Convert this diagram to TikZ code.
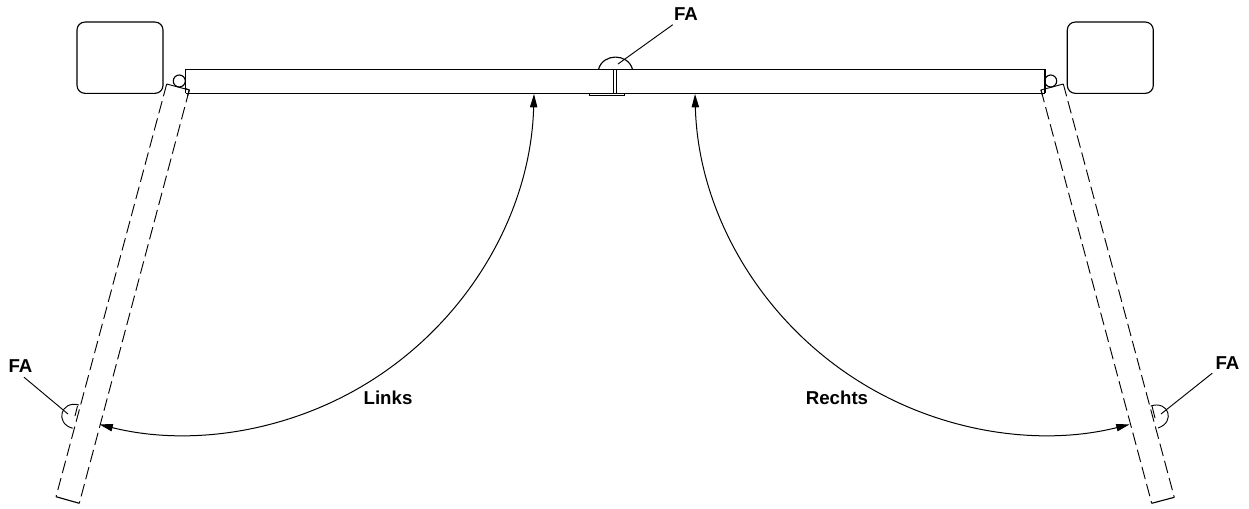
\documentclass[tikz,border=0pt]{standalone}
\usepackage{fontspec}
\setmainfont{Liberation Sans}
\usetikzlibrary{arrows.meta}
\tikzset{
  ln/.style={line width=0.85pt,black},
  thin ln/.style={line width=0.7pt,black},
  dsh/.style={line width=0.7pt,black,dash pattern=on 9.5pt off 3.8pt},
  lab/.style={font=\fontsize{14pt}{15pt}\selectfont\bfseries,inner sep=0pt,text=black},
  arr/.style={line width=0.75pt,black,{Triangle[length=10pt,width=5.5pt]}-{Triangle[length=10pt,width=5.5pt]}}
}
\begin{document}
\begin{tikzpicture}[x=0.75pt,y=0.75pt]
\useasboundingbox (0,0) rectangle (1249,508);
% pillars
\node[draw,ln,rounded corners=6pt,minimum width=64.5pt,minimum height=53.5pt,inner sep=0pt] (pl) at (120,508-57.7) {};
\node[draw,ln,rounded corners=6pt,minimum width=64.5pt,minimum height=53.5pt,inner sep=0pt] (pr) at (1110.3,508-57.7) {};
% hinges
\node[draw,ln,circle,minimum size=9pt,inner sep=0pt] (hl) at (179.3,508-81) {};
\node[draw,ln,circle,minimum size=9pt,inner sep=0pt] (hr) at (1050.7,508-81) {};
% closed gate
\draw[ln] (185.5,508-93) -- (185.5,508-69.3) -- (1045,508-69.3) -- (1045,508-93);
\draw[thin ln] (185.5,508-93) -- (1045,508-93);
% centre stop
\draw[thin ln] (613.3,508-69.3) -- (613.3,508-93) (616.7,508-69.3) -- (616.7,508-93);
\draw[thin ln] (589,508-93) -- (589,508-95.5) -- (624.7,508-95.5) -- (624.7,508-93);
\draw[ln] (598.5,508-69.3) .. controls (603,508-53) and (628,508-53) .. (632.5,508-69.3);
% open gates
\draw[dsh] (166.7,508-84) -- (56,508-496.7);
\draw[dsh] (189.3,508-90) -- (79.3,508-503.3);
\draw[ln] (56,508-496.7) -- (79.3,508-503.3);
\draw[thin ln] (166.7,508-84) -- (189.3,508-90) -- (187.6,508-96);
\draw[thin ln] (185.5,508-88.5) -- (189.3,508-90);
\draw[dsh] (1063.3,508-84) -- (1174.3,508-497.3);
\draw[dsh] (1041,508-90) -- (1151.7,508-503.3);
\draw[ln] (1151.7,508-503.3) -- (1174.3,508-497.3);
\draw[thin ln] (1063.3,508-84) -- (1041,508-90) -- (1042.6,508-96);
% photo cells on the gates
\draw[thin ln] (79,508-405) .. controls (60.7,508-400) and (54.4,508-423.4) .. (72.7,508-428.3);
\draw[thin ln] (77.5,508-406) -- (75,508-416);
\draw[thin ln] (1150.7,508-406) .. controls (1168.6,508-400) and (1175.9,508-422) .. (1158,508-428);
\draw[thin ln] (1152,508-406) -- (1155,508-418);
% labels
\node[lab] (fat) at (686,508-14) {FA};
\node[lab] (fal) at (20.5,508-366.5) {FA};
\node[lab] (far) at (1227.5,508-363.5) {FA};
\node[lab] (li) at (388,508-398) {Links};
\node[lab] (re) at (837,508-398) {Rechts};
% leaders
\coordinate (ct) at (618,508-64);
\coordinate (cl) at (68,508-414);
\coordinate (cr) at (1161,508-414);
\draw[thin ln] (fat.south west)++(-1,-4) -- (ct);
\draw[thin ln] (fal.south)++(3.5,-4) -- (cl);
\draw[thin ln] (far.south west)++(-3,-3) -- (cr);
% swing arcs
\coordinate (la) at (534,508-94);
\coordinate (ra) at (695,508-94);
\draw[arr] (la) arc[start angle=-1.5,end angle=-104,radius=262.5pt];
\draw[arr] (ra) arc[start angle=181.5,end angle=284,radius=262.5pt];
\end{tikzpicture}
\end{document}
